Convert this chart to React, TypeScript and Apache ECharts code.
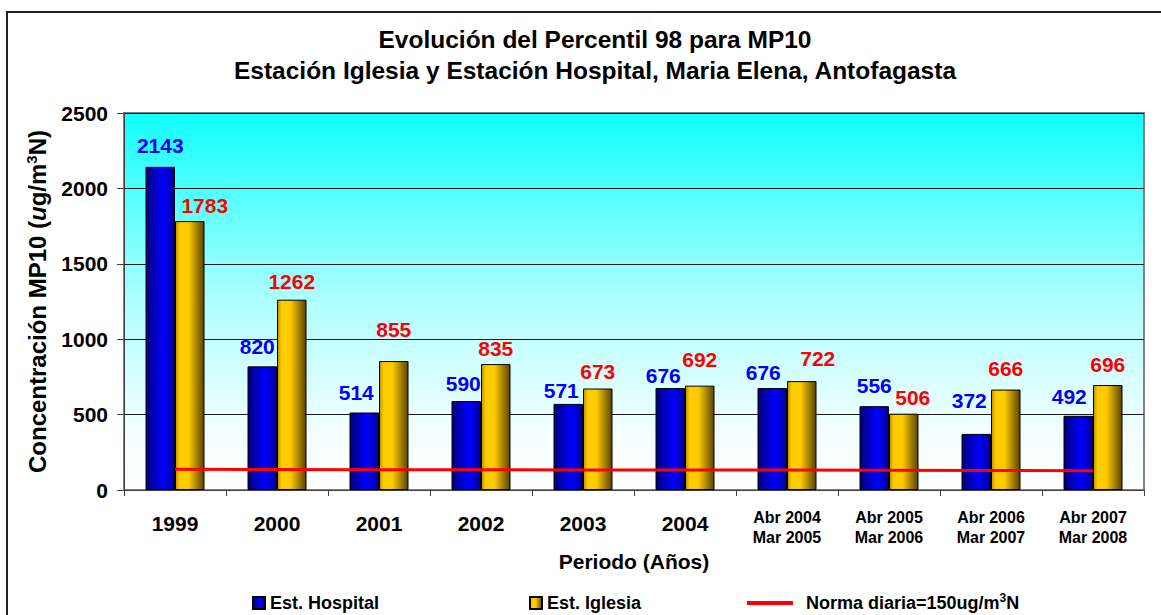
import React, { useEffect, useRef } from "react";
import * as echarts from "echarts";

const categories = [
  "1999",
  "2000",
  "2001",
  "2002",
  "2003",
  "2004",
  "Abr 2004\nMar 2005",
  "Abr 2005\nMar 2006",
  "Abr 2006\nMar 2007",
  "Abr 2007\nMar 2008",
];
const hospital = [2143, 820, 514, 590, 571, 676, 676, 556, 372, 492];
const iglesia = [1783, 1262, 855, 835, 673, 692, 722, 506, 666, 696];
const norma = [137, 136, 135, 134, 133, 133, 132, 131, 130, 128];
const yTicks = [0, 500, 1000, 1500, 2000, 2500];

// label placement (style, not data)
const hospitalLabelDx = [0, -5, -8, -3, -7, -7, -9, 0, -7, -9];
const hospitalLabelGap = [21, 20, 20, 18, 13, 13, 16, 21, 33, 19];
const iglesiaLabelDx = [15, 0, 0, 0, 0, 0, 16, 9, 0, 0];
const iglesiaLabelGap = [16, 18, 32, 16, 17, 26, 23, 16, 21, 21];

const FONT = "'Liberation Sans', Arial, sans-serif";

export default function App() {
  const ref = useRef<HTMLDivElement>(null);
  useEffect(() => {
    if (!ref.current) return;
    const chart = echarts.init(ref.current, undefined, { renderer: "svg" });
    const blueFill = new echarts.graphic.LinearGradient(0, 0, 1, 0, [
      { offset: 0, color: "#00007a" },
      { offset: 0.6, color: "#0000ff" },
      { offset: 1, color: "#000099" },
    ]);
    const goldFill = new echarts.graphic.LinearGradient(0, 0, 1, 0, [
      { offset: 0, color: "#c09000" },
      { offset: 0.15, color: "#ffcc00" },
      { offset: 0.45, color: "#ffcc00" },
      { offset: 1, color: "#5a4400" },
    ]);
    const bgFill = new echarts.graphic.LinearGradient(0, 0, 0, 1, [
      { offset: 0, color: "#10ffff" },
      { offset: 0.5, color: "#b0ffff" },
      { offset: 0.85, color: "#f4ffff" },
      { offset: 1, color: "#ffffff" },
    ]);
    const option: any = {
      animation: false,
      textStyle: { fontFamily: FONT },
      title: {
        text: "Evolución del Percentil 98 para MP10\nEstación Iglesia y Estación Hospital, Maria Elena, Antofagasta",
        left: 595,
        top: 24,
        padding: 0,
        textAlign: "center",
        textStyle: {
          fontFamily: FONT,
          fontSize: 24.5,
          fontWeight: "bold",
          color: "#000",
          lineHeight: 31,
        },
      },
      graphic: [
        {
          type: "rect",
          shape: { x: 7, y: 12, width: 1200, height: 700 },
          style: { fill: "none", stroke: "#222", lineWidth: 2 },
          silent: true,
        },
      ],
      legend: [
        {
          data: ["Est. Hospital"],
          left: 252,
          top: 594,
          padding: 0,
          itemWidth: 12,
          itemHeight: 12,
          icon: "rect",
          textStyle: { fontFamily: FONT, fontSize: 18, fontWeight: "bold", color: "#000" },
        },
        {
          data: ["Est. Iglesia"],
          left: 529,
          top: 594,
          padding: 0,
          itemWidth: 12,
          itemHeight: 12,
          icon: "rect",
          textStyle: { fontFamily: FONT, fontSize: 18, fontWeight: "bold", color: "#000" },
        },
        {
          data: ["Norma diaria=150ug/m3N"],
          left: 747,
          top: 592,
          padding: 0,
          itemWidth: 46,
          itemHeight: 4,
          icon: "rect",
          formatter: () => "{a|Norma diaria=150ug/m}{s|3}{a|N}",
          textStyle: {
            fontFamily: FONT,
            fontSize: 18,
            fontWeight: "bold",
            color: "#000",
            padding: [0, 0, 0, 8],
            rich: {
              a: { fontFamily: FONT, fontSize: 18, fontWeight: "bold", lineHeight: 22 },
              s: {
                fontFamily: FONT,
                fontSize: 12,
                fontWeight: "bold",
                lineHeight: 12,
                verticalAlign: "top",
              },
            },
          },
        },
      ],
      grid: {
        left: 124,
        right: 17,
        top: 113,
        bottom: 125,
        show: true,
        backgroundColor: bgFill,
        borderColor: "#808080",
        borderWidth: 2,
      },
      xAxis: {
        type: "category",
        data: categories,
        name: "Periodo (Años)",
        nameLocation: "middle",
        nameGap: 59,
        nameTextStyle: { fontFamily: FONT, fontSize: 21, fontWeight: "bold", color: "#000" },
        axisLine: { lineStyle: { color: "#404040", width: 1 } },
        axisTick: { show: true, length: 6, lineStyle: { color: "#404040" } },
        axisLabel: {
          margin: 17,
          interval: 0,
          color: "#000",
          formatter: (v: string) =>
            v.indexOf("\n") >= 0
              ? v
                  .split("\n")
                  .map((s) => `{s|${s}}`)
                  .join("\n")
              : `{y|${v}}`,
          rich: {
            y: { fontFamily: FONT, fontSize: 21, fontWeight: "bold", color: "#000", lineHeight: 32 },
            s: { fontFamily: FONT, fontSize: 16, fontWeight: "bold", color: "#000", lineHeight: 20.6 },
          },
        },
      },
      yAxis: {
        type: "value",
        min: yTicks[0],
        max: yTicks[yTicks.length - 1],
        interval: 500,
        name: "{a|Concentración MP10 (}{i|u}{a|g/m}{s|3}{a|N)}",
        nameLocation: "middle",
        nameGap: 74,
        nameRotate: 90,
        nameTextStyle: {
          fontFamily: FONT,
          fontSize: 24,
          fontWeight: "bold",
          color: "#000",
          rich: {
            a: { fontFamily: FONT, fontSize: 24, fontWeight: "bold", color: "#000", lineHeight: 26 },
            i: {
              fontFamily: FONT,
              fontSize: 24,
              fontWeight: "bold",
              fontStyle: "italic",
              color: "#000",
              lineHeight: 26,
            },
            s: {
              fontFamily: FONT,
              fontSize: 15,
              fontWeight: "bold",
              color: "#000",
              lineHeight: 15,
              verticalAlign: "top",
            },
          },
        },
        axisLine: { show: true, lineStyle: { color: "#404040", width: 1 } },
        axisTick: { show: true, length: 7, lineStyle: { color: "#404040" } },
        axisLabel: {
          margin: 16,
          fontFamily: FONT,
          fontSize: 21,
          fontWeight: "bold",
          color: "#000",
          formatter: (v: number) => String(v),
        },
        splitLine: { show: true, lineStyle: { color: "#1a1a1a", width: 1 } },
      },
      series: [
        {
          name: "Est. Hospital",
          type: "bar",
          barWidth: 29.5,
          barGap: "0%",
          data: hospital.map((v, i) => ({
            value: v,
            label: { offset: [hospitalLabelDx[i], -(hospitalLabelGap[i] - 10.5)] },
          })),
          itemStyle: { color: blueFill, borderColor: "#000", borderWidth: 1 },
          label: {
            show: true,
            position: "top",
            distance: 0,
            fontFamily: FONT,
            fontSize: 21,
            fontWeight: "bold",
            color: "#0000ff",
          },
        },
        {
          name: "Est. Iglesia",
          type: "bar",
          barWidth: 29.5,
          barGap: "0%",
          data: iglesia.map((v, i) => ({
            value: v,
            label: { offset: [iglesiaLabelDx[i], -(iglesiaLabelGap[i] - 10.5)] },
          })),
          itemStyle: { color: goldFill, borderColor: "#000", borderWidth: 1 },
          label: {
            show: true,
            position: "top",
            distance: 0,
            fontFamily: FONT,
            fontSize: 21,
            fontWeight: "bold",
            color: "#ff0000",
          },
        },
        {
          name: "Norma diaria=150ug/m3N",
          type: "line",
          data: norma,
          symbol: "none",
          z: 5,
          itemStyle: { color: "#ff0000" },
          lineStyle: { color: "#ff0000", width: 3 },
        },
      ],
    };
    chart.setOption(option);
    return () => chart.dispose();
  }, []);
  return (
    <div
      ref={ref}
      style={{ position: "fixed", left: 0, top: 0, width: 1161, height: 615, background: "#fff" }}
    />
  );
}
